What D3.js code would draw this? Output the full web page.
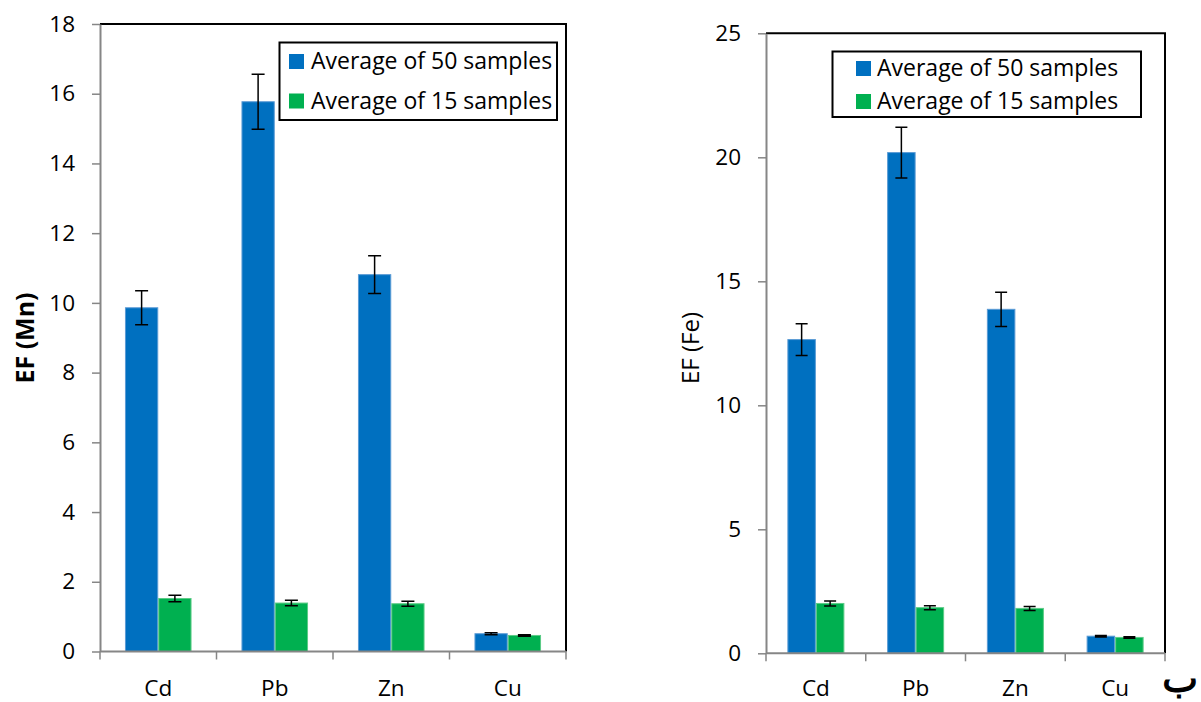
<!DOCTYPE html>
<html>
<head>
<meta charset="utf-8">
<script src="https://cdn.jsdelivr.net/npm/d3@7"></script>
<style>
  html, body { margin: 0; padding: 0; background: #fff; }
  svg { display: block; font-family: "Open Sans", "Liberation Sans", sans-serif; }
</style>
</head>
<body>
<svg id="chart" width="1201" height="702"></svg>
<script>
// Enrichment factors of heavy metals, normalised to Mn (left) and Fe (right)
const elements = ["Cd", "Pb", "Zn", "Cu"];
const seriesNames = ["Average of 50 samples", "Average of 15 samples"];
const seriesColors = ["#0070C0", "#00B050"];
const seriesEdges = ["#5B9BD5", "#5CCB86"];

const mnAvg50 = [9.86, 15.77, 10.81, 0.51];
const mnErr50 = [0.49, 0.79, 0.54, 0.03];
const mnAvg15 = [1.52, 1.39, 1.37, 0.46];
const mnErr15 = [0.09, 0.08, 0.07, 0.02];
const mnTicks = [0, 2, 4, 6, 8, 10, 12, 14, 16, 18];

const feAvg50 = [12.65, 20.19, 13.87, 0.69];
const feErr50 = [0.64, 1.02, 0.69, 0.03];
const feAvg15 = [2.01, 1.84, 1.81, 0.64];
const feErr15 = [0.10, 0.08, 0.08, 0.03];
const feTicks = [0, 5, 10, 15, 20, 25];

const svg = d3.select("#chart");

function drawPanel(opt) {
  const g = svg.append("g");
  const { left, right, top, bottom } = opt.box;

  const y = d3.scaleLinear().domain([0, d3.max(opt.ticks)]).range([bottom, top]);
  const x0 = d3.scaleBand().domain(elements).range([left, right]).padding(0);
  const bw = x0.bandwidth();
  const gapHalf = bw * 0.75 / 3.5;
  const x1 = d3.scaleBand().domain([0, 1]).range([gapHalf, bw - gapHalf]).padding(0);

  // plot-area frame: black top and right edges
  g.append("path")
    .attr("d", `M${left},${top}H${right}V${bottom}`)
    .attr("fill", "none").attr("stroke", "#000").attr("stroke-width", 2);

  // bars
  const rows = [];
  elements.forEach((e, i) => {
    [0, 1].forEach(s => {
      rows.push({ e, s, v: opt.values[s][i], err: opt.errors[s][i] });
    });
  });

  g.selectAll("rect.bar").data(rows).enter().append("rect")
    .attr("class", "bar")
    .attr("x", d => x0(d.e) + x1(d.s) + 0.5)
    .attr("width", x1.bandwidth() - 1)
    .attr("y", d => y(d.v))
    .attr("height", d => y(0) - y(d.v))
    .attr("fill", d => seriesColors[d.s])
    .attr("stroke", d => seriesEdges[d.s])
    .attr("stroke-width", 1);

  // error bars
  const cap = opt.cap;
  const eb = g.selectAll("g.err").data(rows).enter().append("g")
    .attr("class", "err")
    .attr("stroke", "#000").attr("stroke-width", 1.5).attr("fill", "none");
  eb.append("path").attr("d", d => {
    const cx = x0(d.e) + x1(d.s) + x1.bandwidth() / 2;
    const y1 = y(d.v + d.err), y2 = y(d.v - d.err);
    return `M${cx},${y1}V${y2}M${cx - cap},${y1}H${cx + cap}M${cx - cap},${y2}H${cx + cap}`;
  });

  // y axis
  const yAxis = d3.axisLeft(y).tickValues(opt.ticks).tickSize(8).tickPadding(17).tickSizeOuter(0);
  const ya = g.append("g").attr("transform", `translate(${left},0)`).call(yAxis);
  ya.select(".domain").attr("stroke", "#868686").attr("stroke-width", 2);
  ya.selectAll(".tick line").attr("stroke", "#868686").attr("stroke-width", 1.5);
  ya.selectAll(".tick text").attr("font-size", 22.5).attr("fill", "#000")
    .attr("font-family", "Open Sans");

  // x axis: category dividers with tick marks hanging below
  const xa = g.append("g").attr("transform", `translate(0,${bottom})`);
  xa.append("line").attr("x1", left).attr("x2", right)
    .attr("stroke", "#868686").attr("stroke-width", 2);
  const edges = elements.map(e => x0(e)).concat([right]);
  xa.selectAll("line.div").data(edges).enter().append("line")
    .attr("class", "div")
    .attr("x1", d => d).attr("x2", d => d).attr("y1", 0).attr("y2", 8)
    .attr("stroke", "#868686").attr("stroke-width", 1.5);
  xa.selectAll("text").data(elements).enter().append("text")
    .attr("x", d => x0(d) + bw / 2)
    .attr("y", opt.labelY - bottom)
    .attr("text-anchor", "middle")
    .attr("font-size", 22.5)
    .text(d => d);

  // y axis title
  g.append("text")
    .attr("transform", `translate(${opt.titleX},${opt.titleY}) rotate(-90)`)
    .attr("text-anchor", "middle")
    .attr("font-size", opt.titleSize)
    .attr("font-weight", opt.titleWeight)
    .text(opt.title);

  // legend
  const L = opt.legend;
  const lg = g.append("g");
  lg.append("rect")
    .attr("x", L.x).attr("y", L.y).attr("width", L.w).attr("height", L.h)
    .attr("fill", "#fff").attr("stroke", "#000").attr("stroke-width", 2);
  seriesNames.forEach((name, s) => {
    const by = L.baseline + s * L.step;
    lg.append("rect")
      .attr("x", L.swatchX).attr("y", by - 15).attr("width", 15).attr("height", 15)
      .attr("fill", seriesColors[s]);
    lg.append("text")
      .attr("x", L.textX).attr("y", by)
      .attr("font-size", 23)
      .text(name);
  });
}

drawPanel({
  box: { left: 100, right: 566, top: 24, bottom: 651.5 },
  ticks: mnTicks,
  values: [mnAvg50, mnAvg15],
  errors: [mnErr50, mnErr15],
  cap: 6.5,
  labelY: 696,
  title: "EF (Mn)", titleX: 34, titleY: 338, titleSize: 25, titleWeight: "bold",
  legend: { x: 279.5, y: 42.5, w: 277.5, h: 77.5, swatchX: 289, textX: 311, baseline: 69, step: 39.5 }
});

drawPanel({
  box: { left: 766, right: 1165, top: 33.3, bottom: 653.3 },
  ticks: feTicks,
  values: [feAvg50, feAvg15],
  errors: [feErr50, feErr15],
  cap: 6,
  labelY: 696,
  title: "EF (Fe)", titleX: 699, titleY: 348, titleSize: 24, titleWeight: "normal",
  legend: { x: 832.5, y: 51.5, w: 308.5, h: 65.5, swatchX: 856, textX: 877, baseline: 76, step: 33 }
});

// panel letter
svg.append("text")
  .attr("x", 1198).attr("y", 692)
  .attr("text-anchor", "end")
  .attr("direction", "ltr")
  .attr("font-family", "DejaVu Sans")
  .attr("font-size", 38)
  .attr("stroke", "#000")
  .attr("stroke-width", 1.2)
  .text("ب");
</script>
</body>
</html>
